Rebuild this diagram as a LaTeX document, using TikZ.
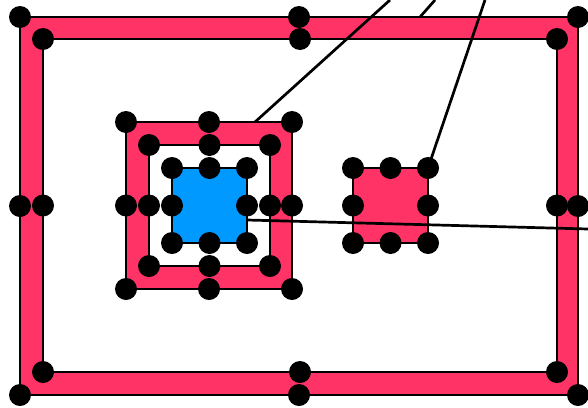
\documentclass[tikz,border=0pt]{standalone}
\usepackage{xcolor}
\usepackage{tikz}
\usetikzlibrary{backgrounds}

\definecolor{ringpink}{HTML}{FF3366}
\definecolor{corblue}{HTML}{0099FF}

% eight dots round a box: name, centre x, centre y, half width, half height
\newcommand{\dotbox}[5]{%
  \foreach \i/\dx/\dy in {1/-1/-1, 2/0/-1, 3/1/-1, 4/1/0, 5/1/1, 6/0/1, 7/-1/1, 8/-1/0}
    \node[dot] (#1\i) at ({#2+\dx*#4},{#3+\dy*#5}) {};%
}

\begin{document}
\begin{tikzpicture}[
    x=1pt, y=-1pt,
    dot/.style={circle, fill=black, inner sep=0pt, minimum size=22pt},
    ring/.style={fill=ringpink, draw=black, line width=2.4pt, even odd rule},
    core/.style={fill=corblue, draw=black, line width=2.4pt},
    link/.style={draw=black, line width=2.7pt}
]
\useasboundingbox (0,0) rectangle (588,407);

% dots
\dotbox{fo}{299}{206}{279}{189}
\dotbox{fi}{300}{205.5}{257}{166.5}
\dotbox{mo}{209}{205.5}{83}{83.5}
\dotbox{mi}{209.5}{205.5}{60.5}{60.5}
\dotbox{bl}{209.5}{205.5}{37.5}{37.5}
\dotbox{sq}{390.5}{205.5}{37.5}{37.5}

% shapes behind the dots
\begin{scope}[on background layer]
\path[ring] (fo1.center) rectangle (fo5.center) (fi1.center) rectangle (fi5.center);
\path[ring] (mo1.center) rectangle (mo5.center) (mi1.center) rectangle (mi5.center);
\path[core] (bl1.center) rectangle (bl5.center);
\path[ring] (sq1.center) rectangle (sq5.center);

% leader lines
\coordinate (startA) at (255,122);
\coordinate (startB) at (420,17);
\coordinate (startD) at (247,220);
\coordinate (tipA) at (390,0);
\coordinate (tipB) at (435,0);
\coordinate (tipC) at (485,0);
\coordinate (tipD) at (588,229);
\draw[link] (startA) -- (tipA);
\draw[link] (startB) -- (tipB);
\draw[link] (sq3.center) -- (tipC);
\draw[link] (startD) -- (tipD);
\end{scope}

\end{tikzpicture}
\end{document}
